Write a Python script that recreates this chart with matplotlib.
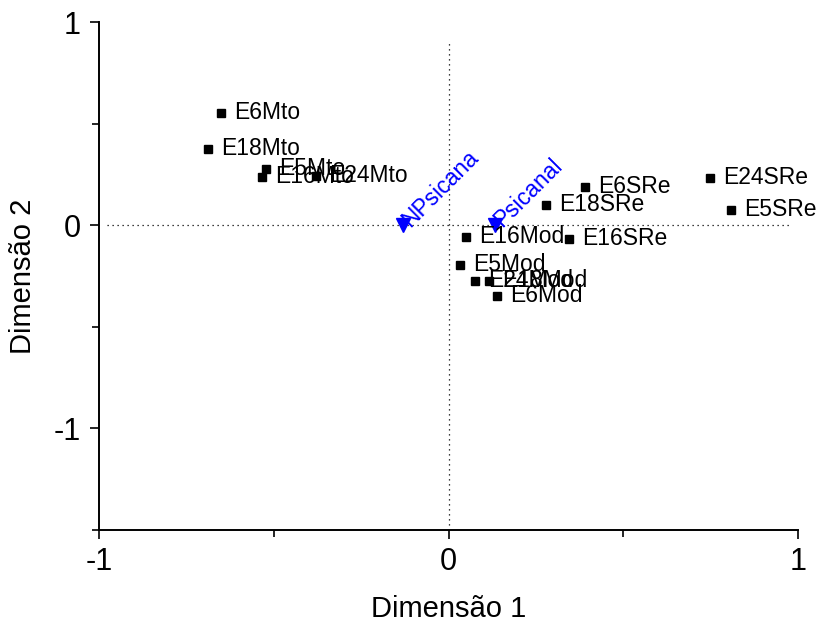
import matplotlib.pyplot as plt
from matplotlib.ticker import MultipleLocator

plt.rcParams['font.family'] = ['Liberation Sans', 'DejaVu Sans']

# row points (black squares)
row_names = ['E6Mto', 'E18Mto', 'E5Mto', 'E16Mto', 'E24Mto',
             'E16Mod', 'E5Mod', 'E24Mod', 'E18Mod', 'E6Mod',
             'E16SRe', 'E18SRe', 'E6SRe', 'E24SRe', 'E5SRe']
row_x = [-0.651, -0.688, -0.522, -0.534, -0.379,
         0.050, 0.033, 0.076, 0.116, 0.139,
         0.345, 0.279, 0.391, 0.748, 0.808]
row_y = [0.550, 0.373, 0.275, 0.236, 0.241,
         -0.059, -0.197, -0.275, -0.275, -0.349,
         -0.069, 0.098, 0.187, 0.231, 0.074]

# column points (blue triangles)
col_names = ['NPsicana', 'Psicanal']
col_x = [-0.130, 0.133]
col_y = [0.0, 0.0]

fig = plt.figure(figsize=(8.21, 6.27), dpi=100)
ax = fig.add_axes([0.1206, 0.1547, 0.8514, 0.8102])

ax.axhline(0, xmin=0.012, xmax=0.988, color='black', lw=0.9, ls=(0, (1, 3)))
ax.axvline(0, ymin=0.01, ymax=0.96, color='black', lw=0.9, ls=(0, (1, 3)))

ax.plot(row_x, row_y, 's', color='black', ms=5.5, ls='none')
for name, x, y in zip(row_names, row_x, row_y):
    ax.annotate(name, (x, y), xytext=(9.5, 0.5), textcoords='offset points',
                ha='left', va='center', fontsize=16.5, color='black')

ax.plot(col_x, col_y, 'v', color='#0000ff', ms=10, ls='none')
for name, x, y in zip(col_names, col_x, col_y):
    ax.annotate(name, (x, y), xytext=(2, 1), textcoords='offset points',
                ha='left', va='center', rotation=45, rotation_mode='anchor',
                fontsize=16.5, color='#0000ff')

ax.set_xlim(-1, 1)
ax.set_ylim(-1.5, 1)
ax.set_xticks([-1, 0, 1])
ax.set_yticks([-1, 0, 1])
ax.xaxis.set_minor_locator(MultipleLocator(0.5))
ax.yaxis.set_minor_locator(MultipleLocator(0.5))
ax.tick_params(which='both', direction='out', width=1.2, labelsize=22)
ax.tick_params(which='major', length=6.5)
ax.tick_params(which='minor', length=5)
ax.tick_params(axis='y', pad=6.5)
ax.tick_params(axis='x', pad=6)
ax.set_xticklabels(['-1', '0', '1'])
ax.set_yticklabels(['-1', '0', '1'])

for side in ['top', 'right']:
    ax.spines[side].set_visible(False)
for side in ['left', 'bottom']:
    ax.spines[side].set_linewidth(1.4)

ax.set_xlabel('Dimensão 1', fontsize=21, labelpad=13)
ax.set_ylabel('Dimensão 2', fontsize=21, labelpad=12)

fig.savefig('out.png', dpi=100)
